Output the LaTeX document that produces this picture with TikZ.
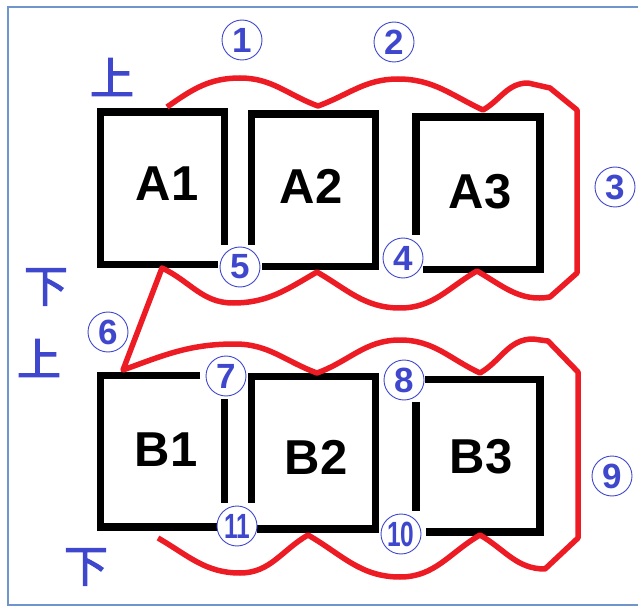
\documentclass[tikz,border=0pt]{standalone}
\usepackage{fontspec}
\setmainfont{Liberation Sans}
\newfontfamily\jpfont[FakeBold=2.5]{Noto Sans CJK JP}
\definecolor{pred}{RGB}{237,28,36}
\definecolor{pblue}{RGB}{63,72,204}
\definecolor{pframe}{RGB}{110,150,205}

\begin{document}
\begin{tikzpicture}[x=1pt,y=1pt,
    wall/.style={line width=7.5pt},
    route/.style={pred,line width=5.5pt,line join=round},
    num/.style={circle,draw=pblue,line width=0.9pt,text=pblue,minimum size=40pt,inner sep=0pt,
      font=\fontsize{35}{35}\selectfont\bfseries},
    room/.style={font=\fontsize{49}{49}\selectfont\bfseries},
    side/.style={text=pblue,inner sep=0pt,font=\fontsize{44}{44}\selectfont\jpfont}]
  \useasboundingbox (0,0) rectangle (638,-607);
  \draw[pframe,line width=2pt] (645,-7) -- (8,-7) -- (8,-605) -- (645,-605);

  % upper row
  \draw[wall] (224.5,-245) -- (224.5,-112) -- (100.5,-112) -- (100.5,-264.5) -- (218,-264.5);
  \draw[wall] (262,-266.5) -- (375.5,-266.5) -- (375.5,-114) -- (251.5,-114) -- (251.5,-245);
  \draw[wall] (416,-235) -- (416,-117) -- (540,-117) -- (540,-269.5) -- (423,-269.5);
  % lower row
  \draw[wall] (200,-375.5) -- (100.5,-375.5) -- (100.5,-527) -- (217,-527);
  \draw[wall] (224.5,-399) -- (224.5,-503);
  \draw[wall] (251.5,-503) -- (251.5,-376.5) -- (375.5,-376.5) -- (375.5,-529) -- (257,-529);
  \draw[wall] (425,-379.5) -- (540,-379.5) -- (540,-532) -- (426,-532);
  \draw[wall] (416,-402) -- (416,-511);

  \node[room] (a1) at (167,-184) {A1};
  \node[room] (a2) at (311,-186) {A2};
  \node[room] (a3) at (480,-192) {A3};
  \node[room] (b1) at (166,-450) {B1};
  \node[room] (b2) at (316,-457) {B2};
  \node[room] (b3) at (481,-457) {B3};

  % red route
  \draw[route] (167,-107) to[out=35,in=180] (240,-78) to[out=0,in=160] (318,-106)
    to[out=20,in=180] (398,-79) to[out=0,in=155] (483,-110)
    to[out=30,in=180] (528,-83) -- (550,-88) -- (577,-110) -- (577,-273) -- (550,-297)
    to[out=190,in=-30] (477,-271) to[out=-150,in=0] (400,-308)
    to[out=180,in=-30] (317,-272) to[out=-150,in=0] (233,-303)
    to[out=180,in=-25] (162,-268) -- (123,-370)
    to[out=20,in=180] (235,-344) to[out=0,in=160] (317,-373)
    to[out=20,in=180] (400,-340) to[out=0,in=155] (480,-373)
    to[out=30,in=180] (533,-339) -- (548,-341) -- (578,-372) -- (578,-538) -- (545,-569)
    to[out=180,in=-30] (480,-535) to[out=-150,in=0] (400,-577)
    to[out=180,in=-30] (308,-535) to[out=-150,in=0] (240,-573)
    to[out=180,in=-30] (158,-538);

  \foreach \n/\x/\y in {1/242/40,2/394/42,3/615/187,4/403/258,5/240/267,
      6/108/332,7/226/376,8/404/380,9/612/476}
    \node[num,fill=white] (c\n) at (\x,-\y) {\n};
  \node[num,fill=white] (c10) at (401,-534) {\scalebox{0.7}[1]{10}};
  \node[num,fill=white] (c11) at (237,-526) {\scalebox{0.7}[1]{11}};

  \node[side] (up1) at (112,-77) {上};
  \node[side] (dn1) at (46,-287) {下};
  \node[side] (up2) at (39,-358) {上};
  \node[side] (dn2) at (86,-567) {下};
\end{tikzpicture}
\end{document}
